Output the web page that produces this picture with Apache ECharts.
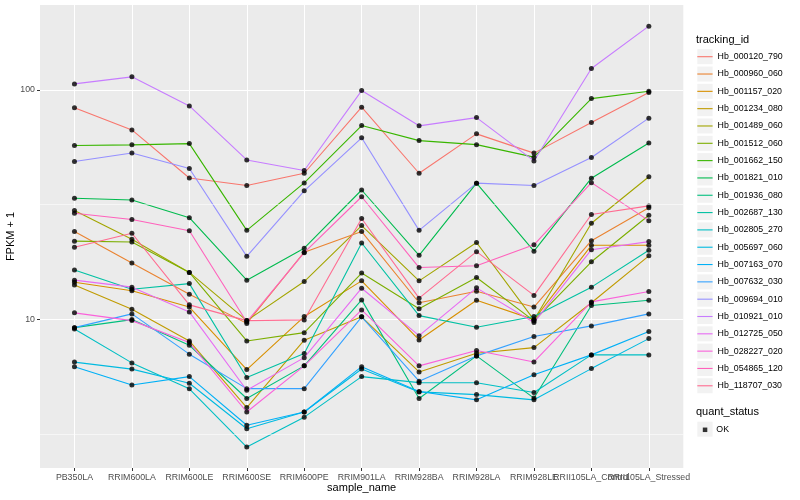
<!DOCTYPE html>
<html>
<head>
<meta charset="utf-8">
<script src="https://cdn.jsdelivr.net/npm/echarts@6/dist/echarts.min.js"></script>
<style>html,body{margin:0;padding:0;background:#fff}#chart{width:800px;height:500px}</style>
</head>
<body>
<div id="chart"></div>
<script>
// ---------- data ----------
const categories = ['PB350LA','RRIM600LA','RRIM600LE','RRIM600SE','RRIM600PE','RRIM901LA','RRIM928BA','RRIM928LA','RRIM928LE','RRII105LA_Control','RRII105LA_Stressed'];
const trackingIds = ['Hb_000120_790','Hb_000960_060','Hb_001157_020','Hb_001234_080','Hb_001489_060','Hb_001512_060','Hb_001662_150','Hb_001821_010','Hb_001936_080','Hb_002687_130','Hb_002805_270','Hb_005697_060','Hb_007163_070','Hb_007632_030','Hb_009694_010','Hb_010921_010','Hb_012725_050','Hb_028227_020','Hb_054865_120','Hb_118707_030'];
const quantStatus = ['OK'];
const yMajorBreaks = [10, 100];
const yMinorBreaks = [3.1623, 31.623];

// FPKM + 1 per sample, in category order
const Hb_000120_790 = [83.5, 66.9, 41.3, 38.3, 43.3, 84.1, 43.3, 64.3, 53.0, 72.0, 97.3];
const Hb_000960_060 = [24.1, 17.6, 12.85, 9.59, 19.6, 24.1, 11.8, 13.25, 11.3, 22.0, 30.6];
const Hb_001157_020 = [14.5, 13.3, 11.3, 6.03, 10.27, 14.7, 8.12, 12.1, 9.96, 21.0, 21.0];
const Hb_001234_080 = [14.1, 11.06, 8.04, 4.12, 8.10, 10.24, 5.89, 7.11, 7.52, 11.8, 18.9];
const Hb_001489_060 = [29.8, 22.3, 16.0, 9.86, 14.6, 25.6, 14.7, 21.6, 9.93, 26.2, 41.8];
const Hb_001512_060 = [21.9, 21.7, 16.0, 8.04, 8.74, 15.9, 11.1, 15.2, 9.83, 17.8, 28.4];
const Hb_001662_150 = [57.2, 57.6, 58.3, 24.4, 39.3, 69.9, 60.1, 57.7, 50.9, 91.6, 98.7];
const Hb_001821_010 = [33.7, 33.1, 27.7, 14.8, 20.4, 36.6, 19.0, 39.2, 19.8, 41.2, 58.7];
const Hb_001936_080 = [9.19, 9.96, 7.70, 4.51, 6.26, 12.14, 4.51, 6.92, 4.53, 11.47, 12.1];
const Hb_002687_130 = [16.4, 13.5, 14.3, 5.57, 7.08, 21.5, 10.37, 9.23, 10.27, 13.8, 20.0];
const Hb_002805_270 = [9.07, 6.45, 4.97, 2.77, 3.74, 5.62, 5.29, 5.28, 4.79, 6.99, 6.99];
const Hb_005697_060 = [6.50, 6.06, 5.26, 3.33, 3.94, 6.07, 4.82, 4.69, 4.45, 6.09, 8.23];
const Hb_007163_070 = [6.21, 5.17, 5.62, 3.45, 3.94, 6.21, 4.84, 4.45, 5.72, 6.99, 8.83];
const Hb_007632_030 = [9.19, 10.55, 7.04, 4.98, 4.98, 10.24, 5.37, 6.92, 8.40, 9.35, 10.55];
const Hb_009694_010 = [48.7, 53.1, 45.4, 18.8, 36.3, 61.8, 24.4, 39.2, 38.3, 50.7, 75.3];
const Hb_010921_010 = [106.2, 114.0, 85.1, 49.5, 44.5, 99.3, 69.7, 75.7, 49.0, 123.9, 189.6];
const Hb_012725_050 = [14.8, 13.8, 10.76, 4.90, 6.80, 13.65, 8.48, 13.7, 9.67, 20.1, 21.8];
const Hb_028227_020 = [10.66, 9.86, 7.91, 3.94, 6.26, 10.98, 6.26, 7.30, 6.51, 11.9, 13.2];
const Hb_054865_120 = [29.0, 27.2, 24.3, 9.73, 19.5, 34.2, 16.8, 17.1, 21.1, 39.4, 26.9];
const Hb_118707_030 = [20.6, 23.7, 11.55, 9.86, 9.93, 27.5, 12.35, 19.7, 12.7, 28.6, 31.2];

const seriesValues = [Hb_000120_790, Hb_000960_060, Hb_001157_020, Hb_001234_080, Hb_001489_060, Hb_001512_060, Hb_001662_150, Hb_001821_010, Hb_001936_080, Hb_002687_130, Hb_002805_270, Hb_005697_060, Hb_007163_070, Hb_007632_030, Hb_009694_010, Hb_010921_010, Hb_012725_050, Hb_028227_020, Hb_054865_120, Hb_118707_030];

// ---------- style ----------
const palette = ['#F8766D','#EA8331','#D89000','#C09B00','#A3A500','#7CAE00','#39B600','#00BB4E','#00BF7D','#00C1A3','#00BFC4','#00BAE0','#00B0F6','#35A2FF','#9590FF','#C77CFF','#E76BF3','#FA62DB','#FF62BC','#FF6C91'];
const FONT = '"Liberation Sans", Arial, Helvetica, sans-serif';
const xIdx = categories.map((_, i) => i);
const xEven = xIdx.filter(i => i % 2 === 0);
const xOdd = xIdx.filter(i => i % 2 === 1);
const KEY_LEFT = 697.3, KEY_TOP = 49.2, KEY_PITCH = 17.32, KEY_W = 15.3, KEY_H = 15;

const chart = echarts.init(document.getElementById('chart'), null, {renderer: 'canvas'});

const lineSeries = seriesValues.map((vals, i) => ({
  type: 'line',
  name: trackingIds[i],
  data: vals.map((v, j) => [j, v]),
  symbol: 'none',
  silent: true,
  z: 2,
  lineStyle: {width: 1.1, color: palette[i]},
  itemStyle: {color: palette[i]}
}));

const pointSeries = {
  type: 'scatter',
  name: quantStatus[0],
  data: seriesValues.flatMap(vals => vals.map((v, j) => [j, v])),
  symbol: 'circle',
  symbolSize: 5,
  silent: true,
  z: 3,
  itemStyle: {color: '#000000'}
};

const minorGrid = {
  type: 'line',
  name: '_minor',
  data: [],
  silent: true,
  z: 1,
  markLine: {
    silent: true,
    symbol: 'none',
    label: {show: false},
    lineStyle: {color: '#ffffff', width: 0.55, type: 'solid'},
    data: yMinorBreaks.map(v => ({yAxis: v}))
  }
};

const keyBoxes = trackingIds.map((_, i) => ({
  type: 'rect', silent: true, z: -1,
  shape: {x: KEY_LEFT, y: KEY_TOP + i * KEY_PITCH, width: KEY_W, height: KEY_H},
  style: {fill: '#F2F2F2'}
}));
keyBoxes.push({
  type: 'rect', silent: true, z: -1,
  shape: {x: KEY_LEFT, y: 421.7, width: KEY_W, height: KEY_H},
  style: {fill: '#F2F2F2'}
});

const xLabelStyle = {formatter: v => categories[Math.round(v)], fontSize: 8.8, color: '#4D4D4D', margin: 5.5,
  hideOverlap: false, fontFamily: FONT};

const option = {
  animation: false,
  backgroundColor: '#ffffff',
  textStyle: {fontFamily: FONT},
  title: [
    {text: 'tracking_id', left: 696, top: 34.5, padding: 0, textStyle: {fontSize: 11, fontWeight: 'normal', color: '#000', fontFamily: FONT}},
    {text: 'quant_status', left: 696, top: 406.5, padding: 0, textStyle: {fontSize: 11, fontWeight: 'normal', color: '#000', fontFamily: FONT}}
  ],
  grid: {left: 40, top: 5, width: 643.3, height: 463, show: true, backgroundColor: '#EBEBEB', borderWidth: 0, containLabel: false, outerBoundsMode: 'none'},
  xAxis: [
    {
      type: 'value', min: -0.6, max: 10.6, position: 'bottom',
      name: 'sample_name', nameLocation: 'middle', nameGap: 14, nameMoveOverlap: false,
      nameTextStyle: {fontSize: 11, color: '#000', fontFamily: FONT},
      axisLine: {show: false, onZero: false},
      axisTick: {show: true, length: 3, lineStyle: {color: '#333333', width: 1}, customValues: xIdx},
      axisLabel: Object.assign({customValues: xEven}, xLabelStyle),
      splitLine: {show: true, lineStyle: {color: '#ffffff', width: 1.07}}
    },
    {
      type: 'value', min: -0.6, max: 10.6, position: 'bottom', offset: 0,
      axisLine: {show: false, onZero: false},
      axisTick: {show: false},
      axisLabel: Object.assign({customValues: xOdd}, xLabelStyle),
      splitLine: {show: false}
    }
  ],
  yAxis: {
    type: 'log', logBase: 10, min: 2.245, max: 234.5,
    name: 'FPKM + 1', nameLocation: 'middle', nameGap: 24, nameRotate: 90, nameMoveOverlap: false,
    nameTextStyle: {fontSize: 11, color: '#000', fontFamily: FONT},
    axisLine: {show: false, onZero: false},
    axisTick: {show: true, length: 3, lineStyle: {color: '#333333', width: 1}, customValues: yMajorBreaks},
    axisLabel: {customValues: yMajorBreaks, formatter: v => String(Math.round(v)), fontSize: 8.8, color: '#4D4D4D', margin: 5,
      showMinLabel: true, showMaxLabel: true, fontFamily: FONT},
    splitLine: {show: true, lineStyle: {color: '#ffffff', width: 1.07}},
    minorTick: {show: false},
    minorSplitLine: {show: false}
  },
  legend: [
    {
      orient: 'vertical', left: KEY_LEFT, top: 48.04, padding: 0,
      itemWidth: KEY_W, itemHeight: 1.1, itemGap: 0, icon: 'rect',
      data: trackingIds, selectedMode: false,
      textStyle: {fontSize: 8.8, lineHeight: KEY_PITCH, color: '#000', fontFamily: FONT}
    },
    {
      orient: 'vertical', left: 702.8, top: 425.3, padding: 0,
      itemWidth: 4.5, itemHeight: 4.5, icon: 'rect',
      data: quantStatus, selectedMode: false,
      textStyle: {fontSize: 8.8, color: '#000', fontFamily: FONT, padding: [0, 0, 0, 4]}
    }
  ],
  graphic: keyBoxes,
  series: [minorGrid].concat(lineSeries, [pointSeries])
};

chart.setOption(option);
</script>
</body>
</html>
